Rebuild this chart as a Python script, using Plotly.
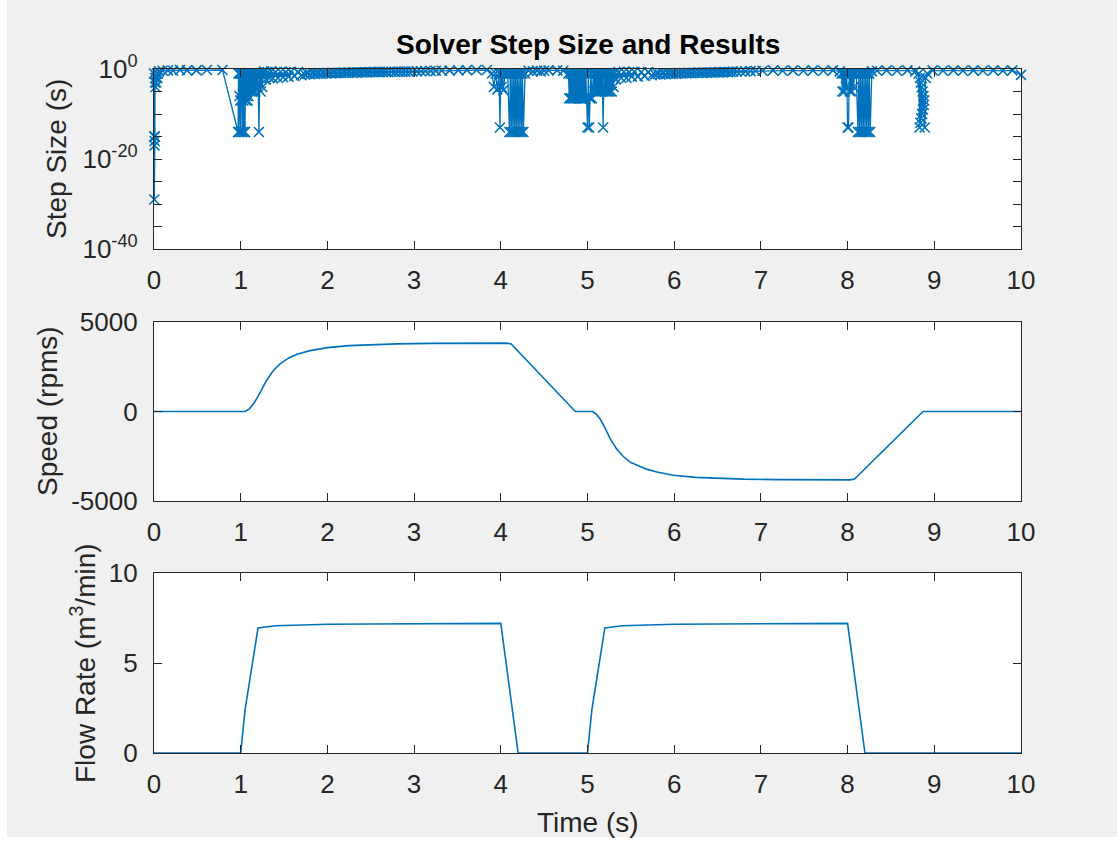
import plotly.graph_objects as go
from plotly.subplots import make_subplots

BLUE = '#0072BD'
INK = '#262626'
FONT = 'Liberation Sans, Arial, Helvetica, sans-serif'

W, H = 1117, 842

# ---- solver step sizes (time s, step s) ----
steps_start = [(0.000, 1e-1), (0.002, 1e-15), (0.004, 1e-29), (0.006, 1e-17), (0.008, 1e-16),
               (0.010, 1e-15), (0.012, 1e-3), (0.015, 1e-2), (0.018, 1e-4), (0.022, 1e-2),
               (0.027, 1e-3), (0.033, 1e-1), (0.040, 1e-2), (0.048, 1e-1), (0.058, 3e-1)]
steps_coast1 = [(0.10, 0.4), (0.16, 0.5), (0.22, 0.4), (0.30, 0.6), (0.38, 0.5),
                (0.49, 0.5), (0.61, 0.6), (0.79, 0.6)]
steps_event1 = [(0.970, 1e-14), (0.975, 1e-1), (0.980, 1e-14), (0.985, 1e-6), (0.990, 1e-1),
                (0.995, 1e-7), (1.000, 1e-14), (1.005, 1e-1), (1.010, 1e-7), (1.015, 1e-1),
                (1.020, 1e-14), (1.025, 1e-1), (1.030, 1e-7), (1.035, 1e-14), (1.040, 1e-1),
                (1.045, 1e-6), (1.050, 1e-14), (1.055, 1e-1), (1.060, 1e-7), (1.065, 1e-1),
                (1.070, 1e-6), (1.075, 1e-1), (1.080, 1e-7), (1.085, 1e-1), (1.090, 1e-6),
                (1.100, 1e-1), (1.110, 1e-5), (1.120, 1e-1), (1.130, 1e-5), (1.140, 1e-1),
                (1.150, 1e-5), (1.160, 1e-1), (1.170, 1e-5), (1.180, 1e-1), (1.190, 1e-4),
                (1.200, 1e-1), (1.210, 1e-14), (1.220, 1e-1), (1.230, 1e-5), (1.240, 1e-1),
                (1.250, 1e-4), (1.260, 1e-1)]
steps_run1 = [(1.27, 0.3), (1.29, 0.005), (1.31, 0.2), (1.33, 0.01), (1.35, 0.3),
              (1.37, 0.008), (1.40, 0.2), (1.43, 0.01), (1.46, 0.25), (1.49, 0.015),
              (1.52, 0.2), (1.55, 0.02), (1.58, 0.25), (1.62, 0.03), (1.66, 0.2),
              (1.70, 0.04), (1.74, 0.06), (1.77, 0.09), (1.80, 0.07), (1.83, 0.10),
              (1.86, 0.08), (1.89, 0.11), (1.92, 0.09), (1.95, 0.12), (1.98, 0.10),
              (2.01, 0.13), (2.04, 0.11), (2.07, 0.14), (2.10, 0.12), (2.13, 0.15),
              (2.16, 0.13), (2.19, 0.16), (2.22, 0.14), (2.25, 0.17), (2.28, 0.15),
              (2.31, 0.18), (2.34, 0.16), (2.37, 0.19), (2.40, 0.17), (2.43, 0.20),
              (2.46, 0.18), (2.49, 0.21), (2.52, 0.19), (2.55, 0.22), (2.58, 0.20),
              (2.61, 0.23), (2.64, 0.21), (2.67, 0.24), (2.70, 0.22), (2.74, 0.25),
              (2.78, 0.23), (2.82, 0.26), (2.86, 0.24), (2.90, 0.27), (2.94, 0.25),
              (2.98, 0.28), (3.03, 0.30), (3.08, 0.32), (3.13, 0.34), (3.19, 0.36),
              (3.25, 0.38), (3.32, 0.40), (3.41, 0.45), (3.51, 0.50), (3.61, 0.55),
              (3.72, 0.60), (3.84, 0.60)]
steps_event2 = [(3.90, 1e-1), (3.92, 1e-4), (3.94, 1e-1), (3.96, 3e-5), (3.98, 1e-1),
                (3.99, 1e-13), (4.00, 1e-1), (4.01, 1e-4), (4.02, 1e-1), (4.03, 2e-5),
                (4.05, 1e-1), (4.08, 1e-1), (4.10, 1e-14), (4.11, 1e-1), (4.12, 1e-14),
                (4.13, 1e-1), (4.14, 1e-14), (4.15, 1e-1), (4.16, 1e-14), (4.17, 1e-1),
                (4.18, 1e-14), (4.19, 1e-1), (4.20, 1e-14), (4.21, 1e-1), (4.22, 1e-14),
                (4.23, 1e-1), (4.24, 1e-14), (4.25, 1e-1), (4.26, 1e-14), (4.28, 1e-1)]
steps_coast2 = [(4.32, 0.4), (4.37, 0.3), (4.42, 0.4), (4.46, 0.3), (4.50, 0.4),
                (4.55, 0.5), (4.65, 0.5), (4.72, 0.4)]
steps_event3 = [(4.78, 1e-1), (4.79, 3e-7), (4.80, 1e-1), (4.81, 3e-7), (4.82, 1e-1),
                (4.83, 3e-7), (4.84, 1e-1), (4.85, 3e-7), (4.86, 1e-1), (4.87, 3e-7),
                (4.88, 1e-1), (4.89, 3e-7), (4.90, 1e-1), (4.91, 3e-7), (4.92, 1e-1),
                (4.93, 3e-7), (4.94, 1e-1), (4.95, 3e-7), (4.96, 1e-1), (4.97, 3e-7),
                (4.98, 1e-1), (5.00, 1e-13), (5.01, 1e-1), (5.02, 1e-13), (5.03, 3e-7),
                (5.04, 1e-1), (5.05, 3e-7), (5.07, 1e-1), (5.08, 1e-5), (5.09, 1e-1),
                (5.10, 1e-5), (5.11, 1e-1), (5.12, 1e-5), (5.13, 1e-1), (5.14, 1e-5),
                (5.15, 1e-1), (5.16, 1e-5), (5.17, 1e-1), (5.18, 1e-13), (5.19, 1e-1),
                (5.20, 1e-5), (5.21, 1e-1), (5.22, 1e-5), (5.23, 1e-1), (5.24, 1e-5),
                (5.25, 1e-1), (5.26, 1e-5), (5.27, 1e-1), (5.28, 1e-5), (5.29, 1e-1),
                (5.30, 1e-4), (5.31, 1e-1)]
steps_run2 = [(5.33, 0.005), (5.36, 0.2), (5.39, 0.01), (5.42, 0.25), (5.45, 0.01),
              (5.48, 0.2), (5.51, 0.02), (5.54, 0.25), (5.58, 0.02), (5.62, 0.2),
              (5.66, 0.03), (5.70, 0.2), (5.74, 0.04), (5.78, 0.06), (5.81, 0.08),
              (5.84, 0.06), (5.87, 0.09), (5.90, 0.07), (5.93, 0.10), (5.96, 0.08),
              (5.99, 0.11), (6.02, 0.09), (6.05, 0.12), (6.08, 0.10), (6.11, 0.13),
              (6.14, 0.11), (6.17, 0.14), (6.20, 0.12), (6.23, 0.15), (6.26, 0.13),
              (6.29, 0.16), (6.32, 0.14), (6.35, 0.17), (6.38, 0.15), (6.41, 0.18),
              (6.44, 0.16), (6.47, 0.19), (6.50, 0.17), (6.53, 0.20), (6.56, 0.18),
              (6.59, 0.21), (6.62, 0.19), (6.65, 0.22), (6.68, 0.24), (6.72, 0.26),
              (6.77, 0.28), (6.82, 0.30), (6.88, 0.33), (6.94, 0.36)]
steps_coast3 = [(7.02, 0.4), (7.14, 0.5), (7.25, 0.4), (7.37, 0.5), (7.49, 0.4),
                (7.60, 0.5), (7.72, 0.4), (7.83, 0.5), (7.91, 0.3)]
steps_event4 = [(7.93, 1e-1), (7.94, 1e-5), (7.95, 1e-1), (7.96, 1e-5), (7.97, 1e-1),
                (7.98, 1e-4), (7.99, 1e-1), (8.00, 1e-13), (8.01, 1e-13), (8.02, 1e-1),
                (8.03, 1e-5), (8.04, 1e-1), (8.05, 1e-5), (8.06, 1e-1), (8.07, 1e-4),
                (8.08, 1e-1), (8.10, 1e-1), (8.12, 1e-14), (8.13, 1e-1), (8.14, 1e-14),
                (8.15, 1e-1), (8.16, 1e-14), (8.17, 1e-1), (8.18, 1e-14), (8.19, 1e-1),
                (8.20, 1e-14), (8.21, 1e-1), (8.22, 1e-14), (8.23, 1e-1), (8.24, 1e-14),
                (8.25, 1e-1), (8.26, 1e-14), (8.28, 0.3)]
steps_coast4 = [(8.34, 0.4), (8.45, 0.5), (8.57, 0.4), (8.69, 0.5), (8.78, 0.3)]
steps_event5 = [(8.820, 1e-1), (8.830, 1e-13), (8.835, 1e-2), (8.840, 1e-12), (8.845, 1e-3),
                (8.850, 1e-11), (8.855, 1e-4), (8.860, 1e-10), (8.865, 1e-5), (8.870, 1e-9),
                (8.875, 1e-6), (8.880, 1e-8), (8.885, 1e-7), (8.890, 1e-13), (8.900, 1e-2),
                (8.920, 1e-1)]
steps_coast5 = [(8.98, 0.5), (9.10, 0.4), (9.22, 0.5), (9.33, 0.4), (9.45, 0.5),
                (9.56, 0.4), (9.68, 0.5), (9.79, 0.4), (9.90, 0.5), (10.00, 0.05)]

# ---- motor speed (rpm) ----
speed_time = [0, 1.00, 1.05, 1.10, 1.15, 1.20, 1.25, 1.30, 1.37, 1.45, 1.55, 1.65, 1.80,
              2.00, 2.25, 2.50, 2.80, 3.20, 3.60, 4.00, 4.07, 4.12, 4.86, 5.00, 5.06,
              5.10, 5.15, 5.20, 5.26, 5.33, 5.41, 5.50, 5.60, 5.68, 5.80, 5.99, 6.25,
              6.50, 6.80, 7.20, 7.60, 8.00, 8.03, 8.08, 8.87, 10.0]
speed_rpm = [0, 0, 0, 150, 450, 850, 1300, 1750, 2250, 2650, 2980, 3200, 3400,
             3570, 3680, 3740, 3780, 3805, 3815, 3820, 3820, 3770, 0, 0, 0,
             -150, -450, -900, -1500, -2050, -2500, -2850, -3080, -3220, -3380, -3560, -3680,
             -3740, -3780, -3805, -3815, -3820, -3820, -3770, 0, 0]

# ---- flow rate (m^3/min) ----
flow_time = [0, 1.00, 1.05, 1.20, 1.40, 1.70, 2.00, 2.50, 3.00, 4.00, 4.20,
             5.00, 5.05, 5.20, 5.40, 5.70, 6.00, 6.50, 7.00, 8.00, 8.20, 10.0]
flow_rate = [0, 0, 2.4, 6.95, 7.07, 7.12, 7.15, 7.17, 7.18, 7.20, 0,
             0, 2.4, 6.95, 7.07, 7.12, 7.15, 7.17, 7.18, 7.20, 0, 0]

time_ticks = [0, 1, 2, 3, 4, 5, 6, 7, 8, 9, 10]
step_tickvals = [1e-40, 1e-20, 1e0]
step_ticktext = ['10<sup>-40</sup>', '10<sup>-20</sup>', '10<sup>0</sup>']
step_minor = [1e-35, 1e-30, 1e-25, 1e-15, 1e-10, 1e-5]
speed_ticks = [-5000, 0, 5000]
speed_ticktext = ['-5000', '0', '5000']
flow_ticks = [0, 5, 10]

steps = (steps_start + steps_coast1 + steps_event1 + steps_run1 + steps_event2 + steps_coast2
         + steps_event3 + steps_run2 + steps_coast3 + steps_event4 + steps_coast4
         + steps_event5 + steps_coast5)
step_time = [p[0] for p in steps]
step_size = [p[1] for p in steps]

fig = make_subplots(rows=3, cols=1)

fig.add_trace(go.Scatter(x=step_time, y=step_size, mode='lines+markers', cliponaxis=False,
                         line=dict(color=BLUE, width=1.3),
                         marker=dict(symbol='x-thin', size=10, line=dict(color=BLUE, width=1.6))),
              row=1, col=1)
fig.add_trace(go.Scatter(x=speed_time, y=speed_rpm, mode='lines',
                         line=dict(color=BLUE, width=1.6)), row=2, col=1)
fig.add_trace(go.Scatter(x=flow_time, y=flow_rate, mode='lines',
                         line=dict(color=BLUE, width=1.6)), row=3, col=1)

axis_style = dict(showline=True, linecolor=INK, linewidth=1.3, mirror='ticks',
                  ticks='inside', ticklen=8, tickwidth=1.3, tickcolor=INK,
                  showgrid=False, zeroline=False, automargin=False,
                  tickfont=dict(family=FONT, size=26, color=INK))

# panel boxes in pixels (left, right, top, bottom)
px_left, px_right = 154, 1021
panels = [(69, 249), (322, 501), (573, 753)]

for i, (top, bot) in enumerate(panels, start=1):
    fig.update_xaxes(axis_style, domain=[px_left / W, px_right / W], range=[0, 10],
                     tickvals=time_ticks, ticklabelstandoff=8, row=i, col=1)
    fig.update_yaxes(axis_style, domain=[1 - bot / H, 1 - top / H],
                     ticklabelstandoff=10, row=i, col=1)

fig.update_yaxes(type='log', range=[-40, 0], tickvals=step_tickvals,
                 ticktext=step_ticktext,
                 minor=dict(tickvals=step_minor, ticks='inside', ticklen=8,
                            tickwidth=1.3, tickcolor=INK, showgrid=False),
                 row=1, col=1)
fig.update_yaxes(range=[-5000, 5000], tickvals=speed_ticks, ticktext=speed_ticktext,
                 row=2, col=1)
fig.update_yaxes(range=[0, 10], tickvals=flow_ticks, row=3, col=1)

lab = dict(family=FONT, size=28, color=INK)
notes = [
    dict(text='<b>Solver Step Size and Results</b>', x=587.5 / W, y=1 - 45 / H,
         font=dict(family=FONT, size=28, color='black')),
    dict(text='Step Size (s)', x=57 / W, y=1 - 159 / H, textangle=-90, font=lab),
    dict(text='Speed (rpms)', x=48 / W, y=1 - 411 / H, textangle=-90, font=lab),
    dict(text='Flow Rate (m<sup>3</sup>/min)', x=83 / W, y=1 - 663 / H, textangle=-90, font=lab),
    dict(text='Time (s)', x=587.5 / W, y=1 - 822 / H, font=lab),
]
for n in notes:
    fig.add_annotation(xref='paper', yref='paper', xanchor='center', yanchor='middle',
                       showarrow=False, **n)

# white screenshot border on the left and bottom
fig.add_shape(type='rect', xref='paper', yref='paper', x0=0, x1=7 / W, y0=0, y1=1,
              fillcolor='white', line_width=0, layer='below')
fig.add_shape(type='rect', xref='paper', yref='paper', x0=0, x1=1, y0=0, y1=5 / H,
              fillcolor='white', line_width=0, layer='below')

fig.update_layout(template='none', width=W, height=H, margin=dict(l=0, r=0, t=0, b=0),
                  paper_bgcolor='#f0f0f0', plot_bgcolor='white', showlegend=False,
                  font=dict(family=FONT, color=INK))

fig.write_html('out.html', config={'displayModeBar': False},
               post_script="document.body.style.margin='0';")
